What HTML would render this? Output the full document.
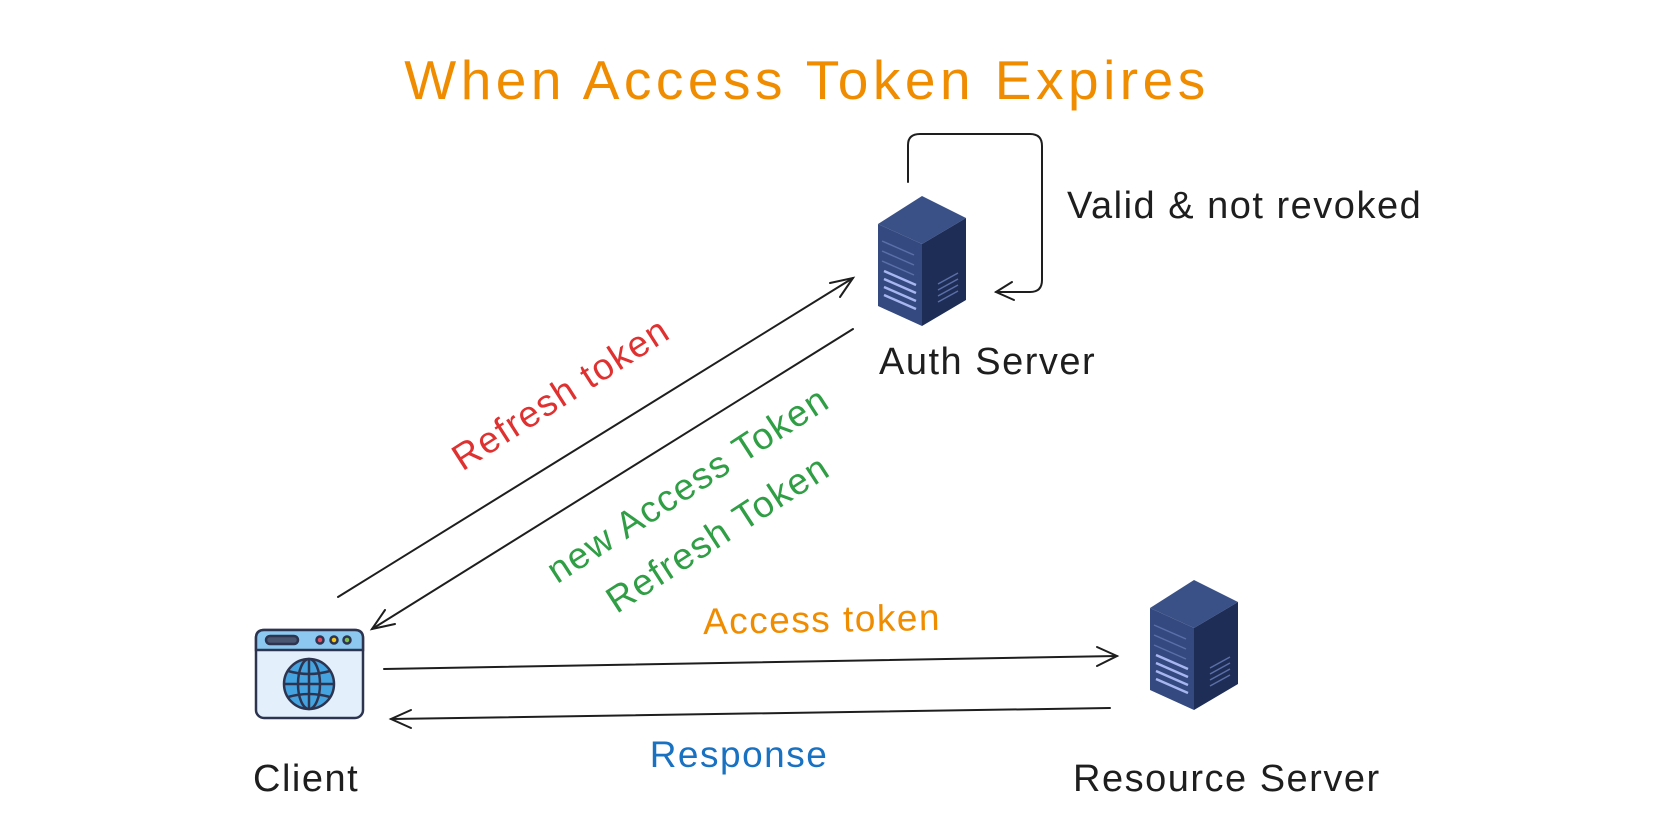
<!DOCTYPE html>
<html><head><meta charset="utf-8"><style>
body{margin:0;background:#fff;}
.w{position:relative;width:1665px;height:829px;overflow:hidden;font-family:"Liberation Sans",sans-serif;}
.t{position:absolute;white-space:nowrap;transform-origin:center center;letter-spacing:1.5px;}
</style></head><body><div class="w">
<svg width="1665" height="829" style="position:absolute;left:0;top:0">
<defs>
<g id="srv">
<polygon points="0,28 44,0 88,22 44,48" fill="#3a5188"/>
<polygon points="0,28 44,48 44,130 0,110" fill="#34497f"/>
<polygon points="44,48 88,22 88,104 44,130" fill="#1e2d55"/>
<g stroke="#a7b6f0" stroke-width="2.5">
<line x1="6" y1="83" x2="38" y2="97"/><line x1="6" y1="91" x2="38" y2="105"/><line x1="6" y1="99" x2="38" y2="113"/><line x1="6" y1="75" x2="38" y2="89"/>
</g>
<g stroke="#5a6ea8" stroke-width="1.5">
<line x1="4" y1="45" x2="36" y2="59"/><line x1="4" y1="55" x2="36" y2="69"/><line x1="4" y1="65" x2="36" y2="79"/>
<line x1="60" y1="88" x2="80" y2="77"/><line x1="60" y1="94" x2="80" y2="83"/><line x1="60" y1="100" x2="80" y2="89"/><line x1="60" y1="106" x2="80" y2="95"/>
</g>
</g>
</defs>
<use href="#srv" x="878" y="196"/>
<use href="#srv" x="1150" y="580"/>
<g fill="none" stroke="#1e1e1e" stroke-width="2" stroke-linecap="round">
<path d="M908,182 L908,145 Q908,134 920,134 L1030,134 Q1042,134 1042,146 L1042,280 Q1042,292 1030,292 L996,292"/>
<path d="M1012,282 L996,292 L1014,300"/>
<line x1="338" y1="597" x2="853" y2="278"/><path d="M830,283 L853,278 L840,297"/>
<line x1="853" y1="329" x2="372" y2="629"/><path d="M395,624 L372,629 L385,610"/>
<line x1="384" y1="669" x2="1117" y2="656"/><path d="M1097,647 L1117,656 L1097,666"/>
<line x1="1110" y1="708" x2="391" y2="719"/><path d="M411,710 L391,719 L411,728"/>
</g>
<g stroke="#2d3450" stroke-width="2.5">
<rect x="256" y="630" width="107" height="88" rx="8" fill="#e3f0fc"/>
<path d="M256,650 L256,638 Q256,630 264,630 L355,630 Q363,630 363,638 L363,650 Z" fill="#8cc8f0"/>
<rect x="266" y="636" width="32" height="8" rx="4" fill="#4a5570"/>
<circle cx="320" cy="640" r="3.5" fill="#e84a5f"/><circle cx="334" cy="640" r="3.5" fill="#f5c518"/><circle cx="347" cy="640" r="3.5" fill="#7cc04a"/>
<circle cx="309" cy="684" r="25" fill="#45a3e0"/>
<ellipse cx="309" cy="684" rx="11" ry="25" fill="none"/>
<line x1="309" y1="659" x2="309" y2="709"/><line x1="284" y1="684" x2="334" y2="684"/>
<path d="M288,671 Q309,677 330,671 M288,697 Q309,691 330,697" fill="none"/>
</g>
</svg>
<div class="t" style="left:305px;top:48px;width:1004px;text-align:center;font-size:55px;color:#f08c00;letter-spacing:4.5px;">When Access Token Expires</div>
<div class="t" style="left:1067px;top:185px;font-size:38px;color:#1e1e1e;">Valid &amp; not revoked</div>
<div class="t" style="left:879px;top:341px;font-size:38px;color:#1e1e1e;">Auth Server</div>
<div class="t" style="left:253px;top:758px;font-size:38px;color:#1e1e1e;">Client</div>
<div class="t" style="left:1073px;top:758px;font-size:38px;color:#1e1e1e;">Resource Server</div>
<div class="t" style="left:421px;top:373px;width:280px;text-align:center;font-size:37px;color:#e03131;transform:rotate(-32.7deg);">Refresh token</div>
<div class="t" style="left:518px;top:464px;width:340px;text-align:center;font-size:37px;color:#2f9e44;transform:rotate(-33deg);">new Access Token</div>
<div class="t" style="left:578px;top:513px;width:280px;text-align:center;font-size:37px;color:#2f9e44;transform:rotate(-33deg);">Refresh Token</div>
<div class="t" style="left:682px;top:599px;width:280px;text-align:center;font-size:37px;color:#f08c00;transform:rotate(-1deg);">Access token</div>
<div class="t" style="left:619px;top:734px;width:240px;text-align:center;font-size:37px;color:#1971c2;">Response</div>
</div></body></html>
